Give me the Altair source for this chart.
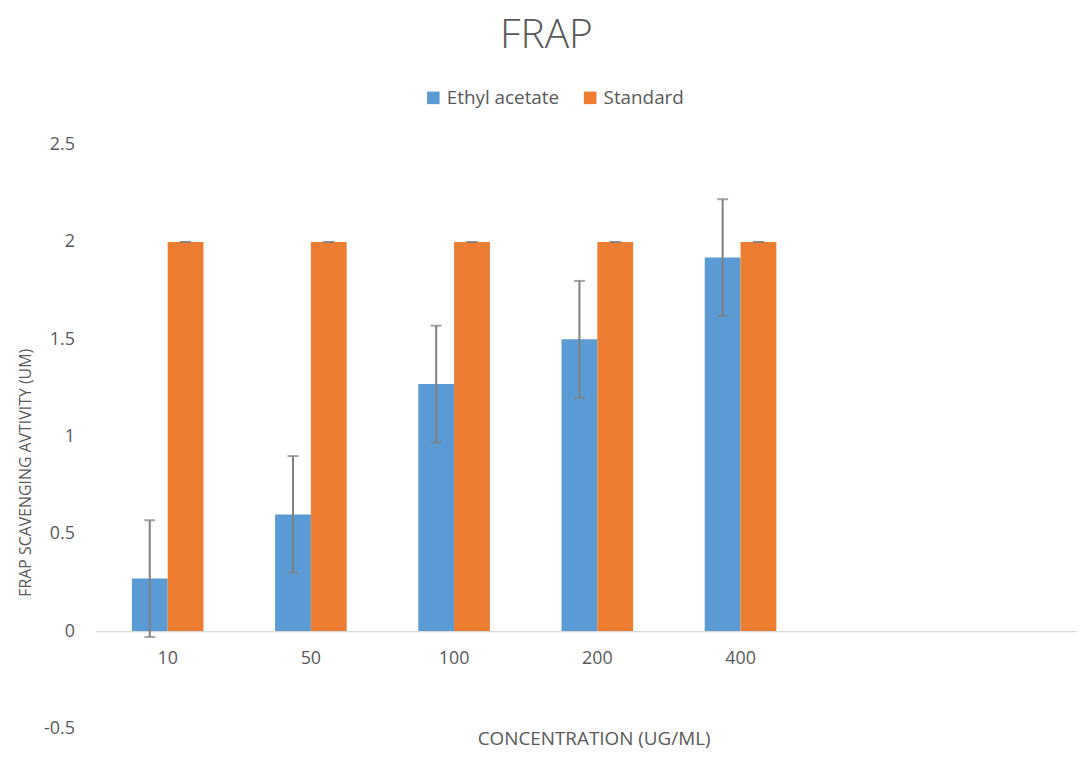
import altair as alt
import pandas as pd

concentrations = ["10", "50", "100", "200", "400"]
placeholders = [" ", "  "]
ethyl_values = [0.27, 0.60, 1.27, 1.50, 1.92]
ethyl_errors = [0.30, 0.30, 0.30, 0.30, 0.30]
standard_values = [2.0, 2.0, 2.0, 2.0, 2.0]
standard_errors = [0.0, 0.0, 0.0, 0.0, 0.0]
series_names = ["Ethyl acetate", "Standard"]
series_colors = ["#5B9BD5", "#ED7D31"]
y_ticks = [-0.5, 0, 0.5, 1, 1.5, 2, 2.5]

rows = []
for c, v, e in zip(concentrations, ethyl_values, ethyl_errors):
    rows.append({"conc": c, "series": series_names[0], "value": v, "lo": v - e, "hi": v + e})
for c, v, e in zip(concentrations, standard_values, standard_errors):
    rows.append({"conc": c, "series": series_names[1], "value": v, "lo": v - e, "hi": v + e})
df = pd.DataFrame(rows)

FONT = "Open Sans"
GREY = "#595959"
W, H = 989, 588
domain_x = concentrations + placeholders

x_enc = alt.X(
    "conc:N",
    sort=domain_x,
    scale=alt.Scale(domain=domain_x, paddingInner=0.5, paddingOuter=0.177, align=0.72),
    axis=alt.Axis(
        title="CONCENTRATION (UG/ML)",
        labelAngle=0,
        ticks=False,
        domainColor="#D9D9D9",
        domainWidth=1.3,
        offset=-98,
        labelPadding=19,
        labelFontSize=18,
        labelColor=GREY,
        labelFont=FONT,
        titleFont=FONT,
        titleFontSize=19,
        titleFontWeight="normal",
        titleColor=GREY,
        titlePadding=62,
        titleX=502,
        titleAnchor="middle",
    ),
)
xoff = alt.XOffset("series:N", scale=alt.Scale(domain=series_names, paddingInner=0, paddingOuter=0))
y_scale = alt.Scale(domain=[-0.5, 2.5], nice=False, zero=False)

bars = alt.Chart(df).mark_bar().encode(
    x=x_enc,
    xOffset=xoff,
    y=alt.Y(
        "value:Q",
        scale=y_scale,
        axis=alt.Axis(
            title="FRAP  SCAVENGING AVTIVITY (UM)",
            values=y_ticks,
            labelExpr="'' + datum.value",
            grid=False,
            ticks=False,
            domain=False,
            labelPadding=21,
            labelFontSize=18,
            labelColor=GREY,
            labelFont=FONT,
            titleFont=FONT,
            titleFontSize=16,
            titleFontWeight="normal",
            titleColor=GREY,
            titlePadding=10,
            titleAnchor="middle",
            titleY=330,
        ),
    ),
    y2=alt.datum(0),
    color=alt.Color(
        "series:N",
        scale=alt.Scale(domain=series_names, range=series_colors),
        legend=alt.Legend(
            title=None,
            orient="none",
            direction="horizontal",
            legendX=331,
            legendY=-57,
            symbolType="square",
            symbolSize=160,
            symbolStrokeWidth=0,
            labelFontSize=19,
            labelColor=GREY,
            labelFont=FONT,
            columnPadding=21,
            labelOffset=4,
        ),
    ),
)

rules = alt.Chart(df).mark_rule(color="#7F7F7F", strokeWidth=2).encode(
    x=alt.X("conc:N", sort=domain_x),
    xOffset=xoff,
    y=alt.Y("lo:Q", scale=y_scale),
    y2="hi:Q",
)
caps_hi = alt.Chart(df).mark_tick(color="#7F7F7F", thickness=2, size=11, orient="horizontal").encode(
    x=alt.X("conc:N", sort=domain_x),
    xOffset=xoff,
    y=alt.Y("hi:Q", scale=y_scale),
)
caps_lo = alt.Chart(df).mark_tick(color="#7F7F7F", thickness=2, size=11, orient="horizontal").encode(
    x=alt.X("conc:N", sort=domain_x),
    xOffset=xoff,
    y=alt.Y("lo:Q", scale=y_scale),
)

chart = alt.layer(bars, rules, caps_hi, caps_lo).properties(
    width=W,
    height=H,
    background="white",
    autosize=alt.AutoSizeParams(type="none"),
    padding={"left": 88, "top": 135, "right": 0, "bottom": 20},
    title=alt.Title(
        "FRAP",
        fontSize=41,
        font=FONT,
        fontWeight=300,
        color=GREY,
        anchor="middle",
        dx=-40,
        offset=31,
    ),
).configure_view(strokeWidth=0)

chart.save("out.html", embed_options={"renderer": "svg", "actions": False})
